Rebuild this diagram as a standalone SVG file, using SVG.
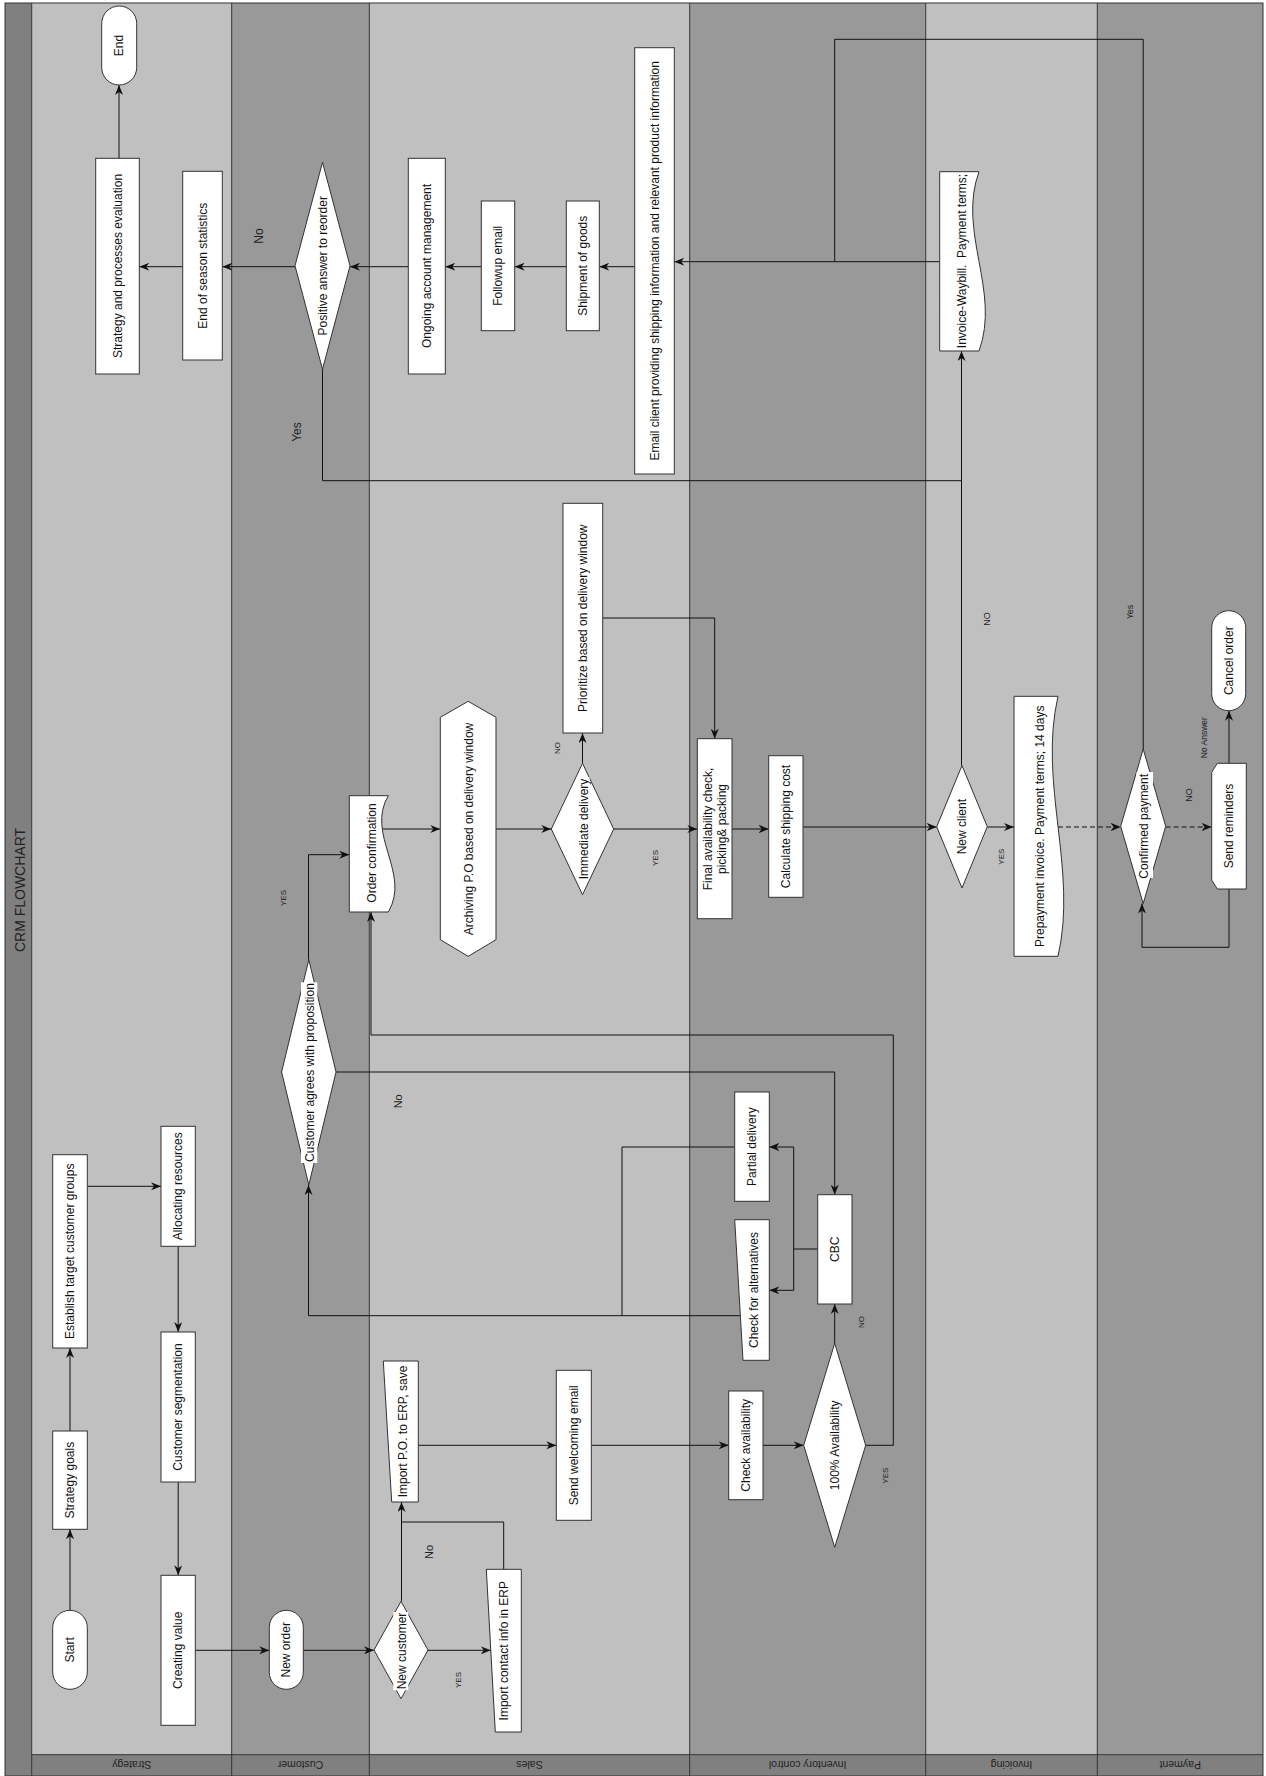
<svg xmlns="http://www.w3.org/2000/svg" width="1266" height="1776" viewBox="0 0 1266 1776">
<style>
.light{fill:#c0c0c0}
.dark{fill:#999999}
.hdr{fill:#808080}
.div{stroke:#333;stroke-width:1;fill:none}
.n{fill:#fff;stroke:#333;stroke-width:1}
.t{font-family:"Liberation Sans",Arial,sans-serif;font-size:12px;fill:#111;text-anchor:middle;dominant-baseline:central}
.lb{font-family:"Liberation Sans",Arial,sans-serif;fill:#222;text-anchor:middle;dominant-baseline:central}
.c{stroke:#111;stroke-width:1;fill:none}
.ca{stroke:#111;stroke-width:1;fill:none;marker-end:url(#arr)}
.dash{stroke-dasharray:5 3}
.lbg{fill:#fff}
</style>
<defs>
<marker id="arr" markerWidth="10" markerHeight="8" refX="10" refY="4" orient="auto" markerUnits="userSpaceOnUse"><path d="M0,0 L10,4 L0,8 L3,4 Z" fill="#111"/></marker>
</defs>

<g id="lanes">
<rect x="5" y="3" width="26.7" height="1773" class="hdr"/>
<rect x="31.7" y="3" width="200" height="1751.7" class="light"/>
<rect x="231.7" y="3" width="137.6" height="1751.7" class="dark"/>
<rect x="369.3" y="3" width="320.4" height="1751.7" class="light"/>
<rect x="689.7" y="3" width="236" height="1751.7" class="dark"/>
<rect x="925.7" y="3" width="171.6" height="1751.7" class="light"/>
<rect x="1097.3" y="3" width="165.7" height="1751.7" class="dark"/>
<rect x="31.7" y="1754.7" width="1231.3" height="21.3" class="hdr"/>
<rect x="5" y="3" width="1258" height="1773" class="div"/>
<path class="div" d="M31.7,3 V1776 M231.7,3 V1776 M369.3,3 V1776 M689.7,3 V1776 M925.7,3 V1776 M1097.3,3 V1776 M31.7,1754.7 H1263"/>
<text class="lb" font-size="14" transform="translate(20,890) rotate(-90)">CRM FLOWCHART</text>
<text class="lb" font-size="10.5" transform="translate(131.7,1765.3) rotate(180)">Strategy</text>
<text class="lb" font-size="10.5" transform="translate(300.5,1765.3) rotate(180)">Customer</text>
<text class="lb" font-size="10.5" transform="translate(529.5,1765.3) rotate(180)">Sales</text>
<text class="lb" font-size="10.5" transform="translate(807.7,1765.3) rotate(180)">Inventory control</text>
<text class="lb" font-size="10.5" transform="translate(1011.5,1765.3) rotate(180)">Invoicing</text>
<text class="lb" font-size="10.5" transform="translate(1180.2,1765.3) rotate(180)">Payment</text>
</g>

<g id="connectors">
<path class="ca" d="M70,1610.3 V1529.3"/>
<path class="ca" d="M70,1431 V1348"/>
<path class="ca" d="M87.3,1186.3 H161"/>
<path class="ca" d="M178.2,1246.3 V1332"/>
<path class="ca" d="M178.2,1482 V1575.3"/>
<path class="ca" d="M195.3,1650.3 H269.3"/>
<path class="ca" d="M303.3,1650.3 H374"/>
<path class="ca" d="M401.5,1601.3 V1502"/>
<path class="ca" d="M428,1650.3 H490.8"/>
<path class="c" d="M503.7,1569.3 V1522 H401.5"/>
<path class="ca" d="M418.3,1445.3 H556.3"/>
<path class="ca" d="M591.3,1445.3 H728.7"/>
<path class="ca" d="M763,1445.3 H803.7"/>
<path class="ca" d="M834.7,1343.3 V1304"/>
<path class="ca" d="M865.7,1445.3 H893.3 V1035 H371 V912"/>
<path class="ca" d="M817.7,1249 H793.7 V1147 H769.3"/>
<path class="ca" d="M793.7,1249 V1290.3 H769.3"/>
<path class="c" d="M734.7,1147 H622 V1315.7"/>
<path class="ca" d="M740.4,1315.7 H308.5 V1185"/>
<path class="ca" d="M336,1072 H834.7 V1194.7"/>
<path class="ca" d="M308.5,959.7 V854.7 H349.3"/>
<path class="ca" d="M382.3,829 H440.3"/>
<path class="ca" d="M496,829 H551.3"/>
<path class="ca" d="M582.5,763.3 V733"/>
<path class="ca" d="M613.7,829 H697.3"/>
<path class="ca" d="M602.7,618 H714.7 V738.7"/>
<path class="ca" d="M732,829 H768.7"/>
<path class="ca" d="M803,827 H936.7"/>
<path class="ca" d="M961.5,765.5 V351"/>
<path class="ca" d="M987.3,827 H1014"/>
<path class="ca dash" d="M1058,827 H1120.7"/>
<path class="ca dash" d="M1165.7,827 H1211.7"/>
<path class="ca" d="M1229,763.3 V710.7"/>
<path class="ca" d="M1229,889 V947.3 H1142 V903.5"/>
<path class="ca" d="M1143.2,749 V39.3 H834.7 V261.7 H674.3"/>
<path class="c" d="M939.7,261.7 H834.7"/>
<path class="ca" d="M634.7,266.7 H599.3"/>
<path class="ca" d="M566.3,266.7 H514.7"/>
<path class="ca" d="M481.3,266.7 H445.3"/>
<path class="ca" d="M408.3,266.7 H350"/>
<path class="ca" d="M295,266.7 H222.3"/>
<path class="ca" d="M182.7,266.7 H139.3"/>
<path class="ca" d="M119,158.3 V85"/>
<path class="c" d="M322.5,369.3 V480.7 H961.5"/>
<text class="lb" font-size="12" transform="translate(259,236) rotate(-90)">No</text>
<text class="lb" font-size="12" transform="translate(297,432) rotate(-90)">Yes</text>
<text class="lb" font-size="8" transform="translate(283,898) rotate(-90)">YES</text>
<text class="lb" font-size="11" transform="translate(398.3,1101.3) rotate(-90)">No</text>
<text class="lb" font-size="8" transform="translate(557,748) rotate(-90)">NO</text>
<text class="lb" font-size="8" transform="translate(655.7,858) rotate(-90)">YES</text>
<text class="lb" font-size="8" transform="translate(861,1322) rotate(-90)">NO</text>
<text class="lb" font-size="8" transform="translate(885,1475.7) rotate(-90)">YES</text>
<text class="lb" font-size="11" transform="translate(428.7,1552) rotate(-90)">No</text>
<text class="lb" font-size="8" transform="translate(458.7,1680) rotate(-90)">YES</text>
<text class="lb" font-size="9" transform="translate(987.3,619) rotate(-90)">NO</text>
<text class="lb" font-size="8" transform="translate(1001,856.7) rotate(-90)">YES</text>
<text class="lb" font-size="9" transform="translate(1130,612) rotate(-90)">Yes</text>
<text class="lb" font-size="9" transform="translate(1189,795) rotate(-90)">NO</text>
<text class="lb" font-size="8.5" transform="translate(1204,737.7) rotate(-90)">No Answer</text>
</g>

<g id="end"><rect class="n" x="101.7" y="6" width="35" height="79" rx="17.5"/><text class="t" transform="translate(119.2,45.5) rotate(-90)">End</text></g>
<g id="strategy-eval"><rect class="n" x="95.7" y="158.3" width="43.6" height="215.7"/><text class="t" transform="translate(117.5,266) rotate(-90)">Strategy and processes evaluation</text></g>
<g id="end-season"><rect class="n" x="182.7" y="171.3" width="39.6" height="188.7"/><text class="t" transform="translate(202.5,265.7) rotate(-90)">End of season statistics</text></g>
<g id="positive-answer"><polygon class="n" points="322.5,162.3 350,265.8 322.5,369.3 295,265.8"/><text class="t" transform="translate(322.7,265.8) rotate(-90)">Positive answer to reorder</text></g>
<g id="ongoing"><rect class="n" x="408.3" y="158.3" width="37" height="215.7"/><text class="t" transform="translate(426.8,266) rotate(-90)">Ongoing account management</text></g>
<g id="followup"><rect class="n" x="481.3" y="201" width="33.4" height="129.7"/><text class="t" transform="translate(498,265.8) rotate(-90)">Followup email</text></g>
<g id="shipment"><rect class="n" x="566.3" y="201" width="33" height="129.7"/><text class="t" transform="translate(582.8,265.8) rotate(-90)">Shipment of goods</text></g>
<g id="email-client"><rect class="n" x="634.7" y="47.7" width="39.6" height="426.3"/><text class="t" transform="translate(654.5,260.8) rotate(-90)">Email client providing shipping information and relevant product information</text></g>
<g id="invoice-waybill"><path class="n" d="M939.7,171.7 H979 C957,231.5 1001,291.3 979,351 H939.7 Z"/><text class="t" xml:space="preserve" transform="translate(961.5,261) rotate(-90)">Invoice-Waybill.  Payment terms;</text></g>

<g id="order-confirmation"><path class="n" d="M349.3,795.7 H388.3 C365.3,834.5 411.3,873.2 388.3,912 H349.3 Z"/><text class="t" transform="translate(371.5,853) rotate(-90)">Order confirmation</text></g>
<g id="archiving"><polygon class="n" points="440.3,717.3 468.2,701.3 496,717.3 496,939.7 468.2,956.3 440.3,939.7"/><text class="t" transform="translate(468.5,829) rotate(-90)">Archiving P.O based on delivery window</text></g>
<g id="immediate-delivery"><polygon class="n" points="582.5,763.3 613.7,829 582.5,894.7 551.3,829"/><rect class="lbg" x="577.5" y="777" width="12" height="102"/><text class="t" transform="translate(583.5,829) rotate(-90)">Immediate delivery</text></g>
<g id="prioritize"><rect class="n" x="563" y="503.3" width="39.7" height="229.7"/><text class="t" transform="translate(583,618.2) rotate(-90)">Prioritize based on delivery window</text></g>
<g id="final-check"><rect class="n" x="697.3" y="738.7" width="34.7" height="180"/><text class="t" transform="translate(708,829) rotate(-90)">Final availability check,</text><text class="t" transform="translate(722,829) rotate(-90)">picking&amp; packing</text></g>
<g id="calc-shipping"><rect class="n" x="768.7" y="755.7" width="34.3" height="141.6"/><text class="t" transform="translate(785.8,826.5) rotate(-90)">Calculate shipping cost</text></g>
<g id="new-client"><polygon class="n" points="962,765.5 987.3,826.7 962,888 936.7,826.7"/><text class="t" transform="translate(962,826.7) rotate(-90)">New client</text></g>
<g id="prepayment"><path class="n" d="M1014,696.3 H1058 C1038,783 1078,869.6 1058,956.3 H1014 Z"/><text class="t" transform="translate(1040,826.3) rotate(-90)">Prepayment invoice. Payment terms; 14 days</text></g>
<g id="confirmed-payment"><polygon class="n" points="1143.2,749 1165.7,826.3 1143.2,903.6 1120.7,826.3"/><rect class="lbg" x="1136.5" y="772" width="16.5" height="106"/><text class="t" transform="translate(1144,826.3) rotate(-90)">Confirmed payment</text></g>
<g id="send-reminders"><polygon class="n" points="1217.3,763.3 1246.3,763.3 1246.3,889 1217.3,889 1211.7,880 1211.7,772.3"/><text class="t" transform="translate(1229,826) rotate(-90)">Send reminders</text></g>
<g id="cancel-order"><rect class="n" x="1211.7" y="610.7" width="34" height="100" rx="17"/><text class="t" transform="translate(1228.7,660.7) rotate(-90)">Cancel order</text></g>

<g id="customer-agrees"><polygon class="n" points="308.8,959.7 336,1072 308.8,1185 281.6,1072"/><rect class="lbg" x="301" y="982.3" width="16.3" height="180.7"/><text class="t" transform="translate(309.5,1072.5) rotate(-90)">Customer agrees with proposition</text></g>
<g id="partial-delivery"><rect class="n" x="734.7" y="1092" width="34.6" height="109.3"/><text class="t" transform="translate(752,1146.7) rotate(-90)">Partial delivery</text></g>
<g id="check-alternatives"><polygon class="n" points="734.7,1219.7 769.3,1219.7 769.3,1360.3 743,1360.3"/><text class="t" transform="translate(754,1290) rotate(-90)">Check for alternatives</text></g>
<g id="cbc"><rect class="n" x="817.7" y="1194.7" width="34.3" height="109.3"/><text class="t" transform="translate(834.8,1249.3) rotate(-90)">CBC</text></g>
<g id="availability-100"><polygon class="n" points="834.7,1343.3 865.7,1445.3 834.7,1547.3 803.7,1445.3"/><text class="t" transform="translate(834.7,1445.3) rotate(-90)">100% Availability</text></g>

<g id="start"><rect class="n" x="52.7" y="1610.3" width="34.6" height="79" rx="17.3"/><text class="t" transform="translate(70,1649.8) rotate(-90)">Start</text></g>
<g id="strategy-goals"><rect class="n" x="52.7" y="1431" width="34.6" height="98.3"/><text class="t" transform="translate(70,1480.2) rotate(-90)">Strategy goals</text></g>
<g id="establish"><rect class="n" x="52.7" y="1154.7" width="34.6" height="193.3"/><text class="t" transform="translate(70,1251.3) rotate(-90)">Establish target customer groups</text></g>
<g id="allocating"><rect class="n" x="161" y="1126.3" width="34.3" height="120"/><text class="t" transform="translate(178.2,1186.3) rotate(-90)">Allocating resources</text></g>
<g id="segmentation"><rect class="n" x="161" y="1332" width="34.3" height="150"/><text class="t" transform="translate(178.2,1407) rotate(-90)">Customer segmentation</text></g>
<g id="creating-value"><rect class="n" x="161" y="1575.3" width="34.3" height="150"/><text class="t" transform="translate(178.2,1650.3) rotate(-90)">Creating value</text></g>
<g id="new-order"><rect class="n" x="269.3" y="1610.3" width="34" height="79" rx="17"/><text class="t" transform="translate(286.3,1649.8) rotate(-90)">New order</text></g>
<g id="new-customer"><polygon class="n" points="401,1601.3 428,1650 401,1698.7 374,1650"/><rect class="lbg" x="393.3" y="1612" width="15" height="78.3"/><text class="t" transform="translate(401.5,1651) rotate(-90)">New customer</text></g>
<g id="import-po"><polygon class="n" points="383.3,1361 418.3,1361 418.3,1502 391.7,1502"/><text class="t" transform="translate(403.3,1431.5) rotate(-90)">Import P.O. to ERP, save</text></g>
<g id="import-contact"><polygon class="n" points="486.3,1569.3 521.3,1569.3 521.3,1732 495.3,1732"/><text class="t" transform="translate(504,1650.7) rotate(-90)">Import contact info in ERP</text></g>
<g id="welcoming"><rect class="n" x="556.3" y="1370.3" width="35" height="150"/><text class="t" transform="translate(573.8,1445.3) rotate(-90)">Send welcoming email</text></g>
<g id="check-availability"><rect class="n" x="728.7" y="1391" width="34.3" height="108.7"/><text class="t" transform="translate(745.8,1445.3) rotate(-90)">Check availability</text></g>
</svg>
